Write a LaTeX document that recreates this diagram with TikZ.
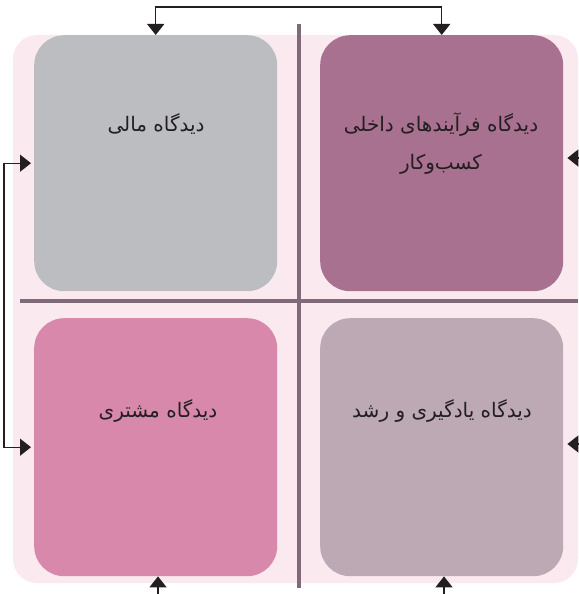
\documentclass[tikz,border=0pt]{standalone}
\usepackage{fontspec}
\usetikzlibrary{arrows.meta}
\TeXXeTstate=1
\newfontfamily\arabicfont[Script=Arabic]{DejaVu Sans}
\definecolor{bgpink}{HTML}{FAEAF0}
\definecolor{cgray}{HTML}{BCBDC0}
\definecolor{cmauve}{HTML}{A87190}
\definecolor{cpink}{HTML}{D888AB}
\definecolor{cgraymauve}{HTML}{BCA9B4}
\definecolor{divider}{HTML}{806A79}
\definecolor{ink}{HTML}{231F20}
\tikzset{
  box/.style={rectangle, rounded corners=30pt, minimum width=243pt, minimum height=256pt, inner sep=0pt, draw=none},
  lbl/.style={font=\arabicfont\fontsize{20}{38}\selectfont, text=ink, align=center, inner sep=0pt},
  arr/.style={draw=ink, line width=1.4pt, -{Triangle[length=11pt,width=17pt]}},
  arrs/.style={draw=ink, line width=1.4pt, {Triangle[length=11pt,width=17pt]}-{Triangle[length=11pt,width=17pt]}},
  divline/.style={draw=divider, line width=4.5pt}
}
\begin{document}
\begin{tikzpicture}[x=1pt,y=-1pt]
\useasboundingbox (0,0) rectangle (578,594);
% background
\fill[bgpink, rounded corners=24pt] (13,35) rectangle (578,583);
% boxes
\node[box, fill=cgray, anchor=north west] (tl) at (34,35) {};
\node[box, fill=cmauve, anchor=north west] (tr) at (320,35) {};
\node[box, fill=cpink, anchor=north west, minimum height=258pt] (bl) at (34,318) {};
\node[box, fill=cgraymauve, anchor=north west, minimum height=258pt] (br) at (320,318) {};
% dividers
\draw[divline] (299,24) -- (299,588);
\draw[divline] (20,301) -- (578,301);
% labels
\node[lbl] (ttl) at (156,124) {\beginR دیدگاه مالی\endR};
\node[lbl] (ttr) at (441,144) {\beginR دیدگاه فرآیندهای داخلی\endR\\\beginR کسب‌وکار\endR};
\node[lbl] (tbl) at (158,411) {\beginR دیدگاه مشتری\endR};
\node[lbl] (tbr) at (442,411) {\beginR دیدگاه یادگیری و رشد\endR};
% top bracket
\draw[arrs] (tl.north) -- ++(0,-28) -| (tr.north);
% left bracket
\draw[arrs, shorten <=3pt, shorten >=3pt] (tl.west) -- ++(-30,0) |- (bl.west);
% right arrows
\coordinate (r1) at (578,158);
\coordinate (r2) at (578,444);
\draw[arr, shorten >=4pt] (r1) -- (r1 -| tr.east);
\draw[arr, shorten >=4pt] (r2) -- (r2 -| br.east);
% bottom arrows
\coordinate (b1) at (158,594);
\coordinate (b2) at (444,594);
\draw[arr] (b1) -- (b1 |- bl.south);
\draw[arr] (b2) -- (b2 |- br.south);
\end{tikzpicture}
\end{document}
